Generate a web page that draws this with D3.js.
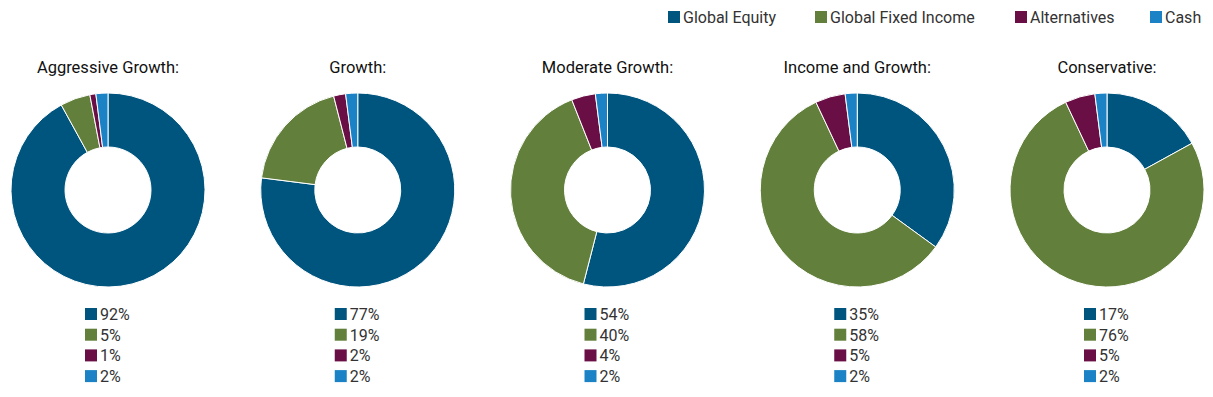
<!DOCTYPE html>
<html>
<head>
<meta charset="utf-8">
<script src="https://cdn.jsdelivr.net/npm/d3@7"></script>
<style>
  body { margin: 0; background: #fff; }
  svg { font-family: Roboto, "Liberation Sans", sans-serif; }
</style>
</head>
<body>
<svg id="chart" width="1213" height="397"></svg>
<script>
"use strict";

var assetClasses = ["Global Equity", "Global Fixed Income", "Alternatives", "Cash"];
var colors = ["#00557f", "#62803b", "#6a0f45", "#1b83c5"];
var portfolios = ["Aggressive Growth:", "Growth:", "Moderate Growth:", "Income and Growth:", "Conservative:"];

var aggressiveGrowth = [92, 5, 1, 2];
var growth = [77, 19, 2, 2];
var moderateGrowth = [54, 40, 4, 2];
var incomeAndGrowth = [35, 58, 5, 2];
var conservative = [17, 76, 5, 2];

var allocations = [aggressiveGrowth, growth, moderateGrowth, incomeAndGrowth, conservative];

var svg = d3.select("#chart");
var color = d3.scaleOrdinal().domain(assetClasses).range(colors);

var x = d3.scalePoint()
  .domain(portfolios)
  .range([108, 1107]);

// top legend
var legendX = [668, 815, 1015, 1150];
var legend = svg.append("g").attr("class", "legend");
legend.selectAll("rect")
  .data(assetClasses)
  .enter()
  .append("rect")
  .attr("x", function(d, i) { return legendX[i]; })
  .attr("y", 11)
  .attr("width", 12)
  .attr("height", 12)
  .attr("fill", function(d) { return color(d); });
legend.selectAll("text")
  .data(assetClasses)
  .enter()
  .append("text")
  .attr("x", function(d, i) { return legendX[i] + 15; })
  .attr("y", 23)
  .style("font-size", "16px")
  .attr("fill", "#333")
  .text(function(d) { return d; });

var pie = d3.pie().sort(null).value(function(d) { return d; });
var arc = d3.arc().innerRadius(43).outerRadius(97);

portfolios.forEach(function(name, p) {
  var g = svg.append("g")
    .attr("transform", "translate(" + x(name) + ",0)");

  g.append("text")
    .attr("x", 0)
    .attr("y", 73)
    .attr("text-anchor", "middle")
    .style("font-size", "16.5px")
    .attr("fill", "#111")
    .text(name);

  g.append("g")
    .attr("transform", "translate(0,190)")
    .selectAll("path")
    .data(pie(allocations[p]))
    .enter()
    .append("path")
    .attr("d", arc)
    .attr("fill", function(d, i) { return colors[i]; })
    .attr("stroke", "#fff")
    .attr("stroke-width", 1);

  var rows = g.append("g").attr("transform", "translate(-23,0)");
  rows.selectAll("rect")
    .data(allocations[p])
    .enter()
    .append("rect")
    .attr("x", 0)
    .attr("y", function(d, i) { return 308 + i * 20.7; })
    .attr("width", 12)
    .attr("height", 12)
    .attr("fill", function(d, i) { return colors[i]; });
  rows.selectAll("text")
    .data(allocations[p])
    .enter()
    .append("text")
    .attr("x", 15)
    .attr("y", function(d, i) { return 320 + i * 20.7; })
    .style("font-size", "16px")
    .attr("fill", "#333")
    .text(function(d) { return d + "%"; });
});
</script>
</body>
</html>
